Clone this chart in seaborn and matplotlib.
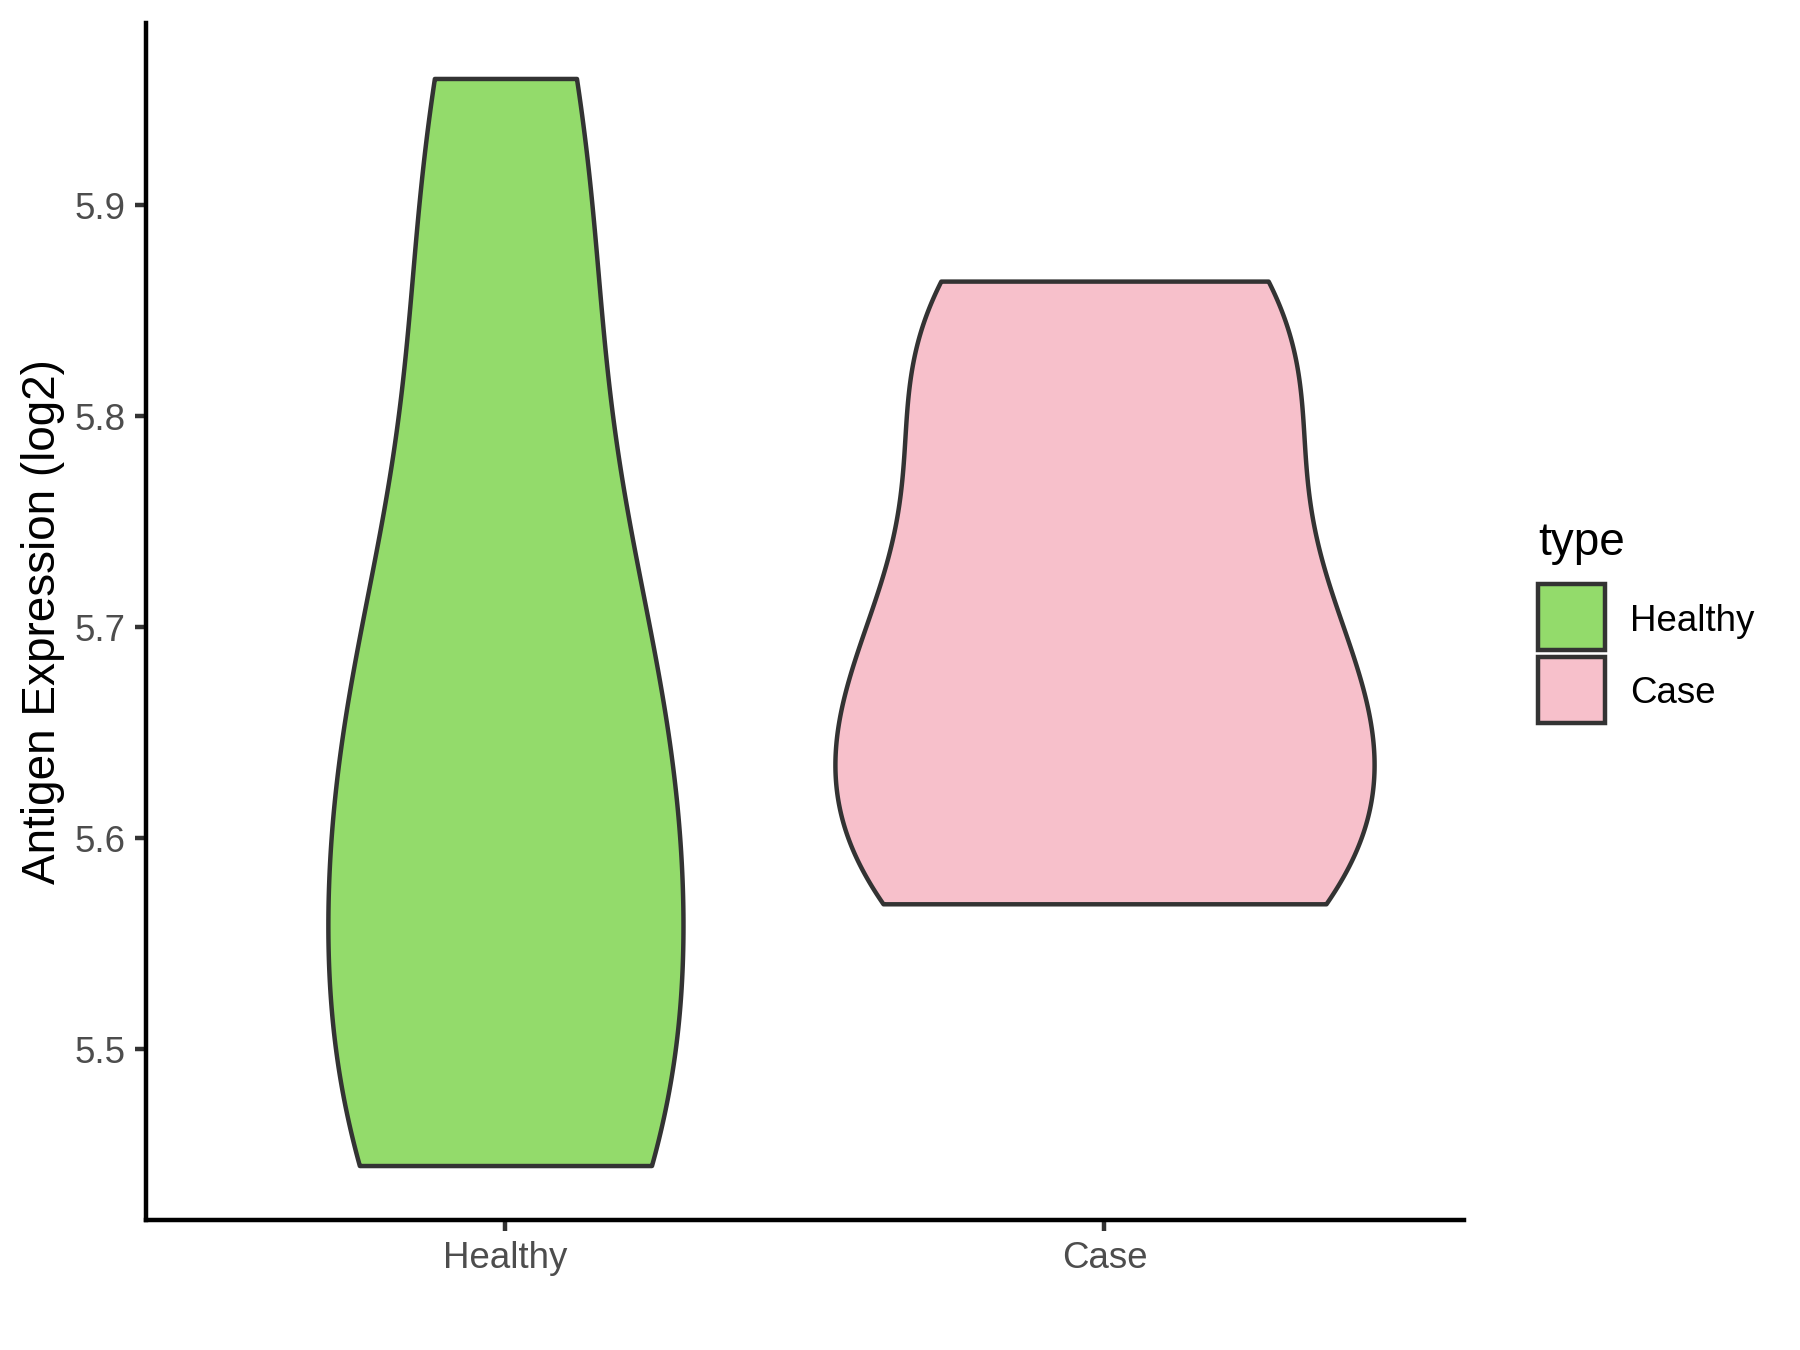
import numpy as np
import pandas as pd
import matplotlib
matplotlib.use("Agg")
import matplotlib.pyplot as plt
from matplotlib.patches import Rectangle
import seaborn as sns

# ---- data ----
categories = ["Healthy", "Case"]
healthy_values = [5.445, 5.445, 5.51, 5.607, 5.645, 5.701, 5.847, 5.96]
case_values = [5.569, 5.569, 5.623, 5.681, 5.682, 5.774, 5.838, 5.864]
fill_colors = ["#93DB6B", "#F7C0CB"]
y_ticks = [5.5, 5.6, 5.7, 5.8, 5.9]
y_label = "Antigen Expression (log2)"
legend_title = "type"

df = pd.DataFrame({
    "type": ["Healthy"] * len(healthy_values) + ["Case"] * len(case_values),
    "value": healthy_values + case_values,
})


def nrd0(kde):
    """R's bw.nrd0 expressed as a scipy gaussian_kde factor."""
    x = np.asarray(kde.dataset).ravel()
    n = x.size
    sd = np.std(x, ddof=1)
    q1, q3 = np.percentile(x, [25, 75])
    lo = min(sd, (q3 - q1) / 1.34)
    if lo <= 0:
        lo = sd
    return 0.9 * lo * n ** (-0.2) / sd


plt.rcParams["font.family"] = ["Liberation Sans", "DejaVu Sans"]
line_w = 1.07
outline = "#333333"

W, H = 1800, 1350
fig = plt.figure(figsize=(6, 4.5), dpi=300)
ax = fig.add_axes([0.0811, 0.0963, 0.7322, 0.8867])

sns.violinplot(
    data=df, x="type", y="value", hue="type",
    order=categories, hue_order=categories,
    palette=fill_colors, saturation=1,
    inner=None, cut=0, density_norm="area", common_norm=True,
    width=0.9, gridsize=512, bw_method=nrd0,
    linewidth=line_w, linecolor=outline, legend=False, ax=ax,
)

ax.set_xlim(-0.6, 1.6)
ax.set_ylim(5.4192, 5.9863)
ax.set_yticks(y_ticks)
ax.set_yticklabels([f"{v:.1f}" for v in y_ticks])
ax.set_xlabel("")
ax.set_ylabel(y_label, fontsize=11, color="black", labelpad=2.2)

for s in ["top", "right"]:
    ax.spines[s].set_visible(False)
for s in ["left", "bottom"]:
    ax.spines[s].set_color("black")
    ax.spines[s].set_linewidth(line_w)
ax.tick_params(axis="both", length=2.75, width=line_w, color=outline,
               labelsize=8.8, labelcolor="#4D4D4D", pad=2.2)
ax.set_facecolor("white")
ax.grid(False)

# ---- legend (ggplot-style keys, placed in figure pixel fractions) ----
key_x0, key_w, key_h = 1538, 67, 66
key_tops = [584, 657]
label_baselines = [631, 703]
fig.text(key_x0 / W, 1 - 555 / H, legend_title, fontsize=11, color="black",
         ha="left", va="baseline")
for col, lab, top, base in zip(fill_colors, categories, key_tops, label_baselines):
    fig.patches.append(Rectangle(
        (key_x0 / W, 1 - (top + key_h) / H), key_w / W, key_h / H,
        transform=fig.transFigure, facecolor=col, edgecolor=outline,
        linewidth=line_w, figure=fig))
    fig.text(1630 / W, 1 - base / H, lab, fontsize=8.8, color="black",
             ha="left", va="baseline")

fig.savefig("out.png", dpi=300, facecolor="white")
